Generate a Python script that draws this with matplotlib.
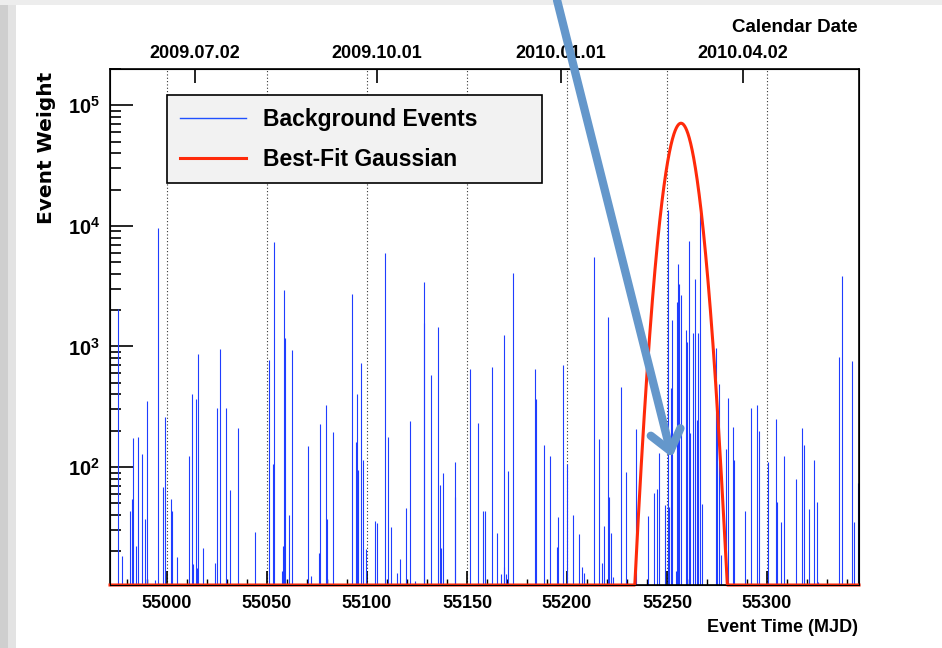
import numpy as np
import matplotlib
matplotlib.use('Agg')
import matplotlib.pyplot as plt
from matplotlib import font_manager
from matplotlib.lines import Line2D
from matplotlib.patches import Rectangle
from matplotlib.ticker import MultipleLocator, LogLocator, NullFormatter, FuncFormatter

# event times (MJD) and weights
event_mjd = [
    54975.4, 54977.7, 54981.5, 54982.4, 54983.0, 54984.7, 54985.7, 54987.7, 54989.2, 54990.0,
    54994.2, 54995.7, 54998.0, 54999.0, 55002.2, 55002.7, 55005.2, 55011.2, 55012.7, 55013.2,
    55014.5, 55015.0, 55015.4, 55017.9, 55024.2, 55024.9, 55026.7, 55029.5, 55031.4, 55035.7,
    55044.2, 55051.2, 55053.2, 55053.7, 55057.4, 55058.2, 55058.7, 55059.0, 55061.0, 55062.4,
    55070.4, 55071.9, 55075.9, 55076.7, 55079.4, 55079.9, 55083.2, 55092.5, 55094.5, 55094.9,
    55095.4, 55097.2, 55098.2, 55099.7, 55103.9, 55105.2, 55109.0, 55110.5, 55111.9, 55114.9,
    55116.5, 55119.7, 55121.4, 55124.2, 55128.4, 55128.7, 55132.2, 55135.4, 55136.7, 55137.2,
    55138.2, 55143.9, 55144.2, 55151.7, 55155.7, 55158.0, 55159.0, 55162.7, 55165.0, 55167.0,
    55168.4, 55168.7, 55169.7, 55170.7, 55173.0, 55183.9, 55184.4, 55188.5, 55191.4, 55194.9,
    55195.4, 55197.9, 55199.9, 55203.2, 55206.0, 55207.4, 55208.4, 55213.5, 55215.9, 55217.3,
    55218.7, 55220.7, 55221.2, 55222.0, 55222.9, 55227.2, 55229.5, 55234.5, 55240.4, 55243.7,
    55244.9, 55245.9, 55249.0, 55250.7, 55251.0, 55252.0, 55252.4, 55254.7, 55254.9, 55255.4,
    55256.2, 55257.2, 55259.5, 55260.2, 55260.9, 55261.5, 55262.9, 55263.9, 55265.2, 55265.7,
    55266.7, 55267.4, 55274.5, 55275.2, 55276.0, 55276.9, 55279.4, 55280.7, 55282.9, 55283.5,
    55289.2, 55292.0, 55294.9, 55295.9, 55300.4, 55304.7, 55305.0, 55307.2, 55308.4, 55314.7,
    55317.5, 55318.4, 55321.2, 55323.5, 55325.0, 55325.4, 55335.9, 55337.7, 55342.4, 55343.4,
    55345.4,
]
event_weight = [
    2035, 18.2, 43.4, 54.3, 174, 22.1, 178, 128, 37, 353,
    11.5, 9570, 68.2, 260, 54.3, 43.4, 17.9, 124, 404, 15.7,
    366, 14.5, 867, 21.4, 16.1, 309, 953, 309, 64.4, 210,
    28.7, 773, 106, 7360, 13.8, 22.1, 2940, 1180, 40, 935,
    149, 12.4, 19.2, 226, 327, 37, 194, 2710, 160, 404,
    94.4, 734, 114, 20.7, 35.8, 34.1, 6000, 178, 31.6, 13.3,
    17.3, 45.4, 239, 11.4, 3450, 1560, 579, 1450, 70.9, 21.4,
    89.7, 109, 56.1, 647, 231, 43.4, 43.4, 679, 28.5, 12.9,
    1245, 14.7, 12.9, 92.6, 4050, 647, 365, 152, 123, 21.8,
    38.3, 702, 106, 40, 27.8, 14.9, 13.3, 5500, 171, 16.1,
    32.4, 1750, 56.7, 28.3, 12.3, 459, 90.3, 206, 39.2, 60.5,
    65.3, 130, 48.4, 13600, 46.9, 455, 1660, 13.7, 2340, 4840,
    3280, 2660, 1370, 1080, 7550, 193, 1290, 3610, 245, 1300,
    12900, 49, 977, 327, 485, 18.6, 141, 372, 213, 114,
    43.4, 311, 325, 199, 109, 250, 50.9, 35.2, 123, 79,
    210, 152, 44.8, 114, 50.9, 11.2, 813, 3850, 759, 35.2,
    73.3,
]

# best-fit gaussian parameters
gauss_amp = 7.1e4
gauss_mean = 55257.0
gauss_sigma = 5.5

# calendar axis on top
date_mjd = [55014, 55105, 55197, 55288]
date_labels = ['2009.07.02', '2009.10.01', '2010.01.01', '2010.04.02']

legend_labels = ['Background Events', 'Best-Fit Gaussian']

x_range = (54971.5, 55346.0)
y_range = (10.5, 2.0e5)

installed = {f.name for f in font_manager.fontManager.ttflist}
narrow = 'Liberation Sans Narrow' in installed
font = 'Liberation Sans Narrow' if narrow else 'Liberation Sans'
# the narrow face allows bigger sizes for the same width
k = 1.1 if narrow else 1.0

plt.rcParams['font.family'] = [font, 'DejaVu Sans']
plt.rcParams['font.weight'] = 'bold'
plt.rcParams['mathtext.fontset'] = 'custom'
plt.rcParams['mathtext.rm'] = font + ':bold'
plt.rcParams['mathtext.it'] = font + ':bold'
plt.rcParams['mathtext.bf'] = font + ':bold'

fig = plt.figure(figsize=(9.42, 6.48), dpi=100)

# grey slide edges
fig.patches.append(Rectangle((0, 0), 8 / 942, 1, transform=fig.transFigure,
                             facecolor='#cfcfcf', edgecolor='none', zorder=-1))
fig.patches.append(Rectangle((8 / 942, 0), 8 / 942, 1, transform=fig.transFigure,
                             facecolor='#e3e3e3', edgecolor='none', zorder=-1))
fig.patches.append(Rectangle((0, 1 - 5 / 648), 1, 5 / 648, transform=fig.transFigure,
                             facecolor='#ededed', edgecolor='none', zorder=-1))

ax = fig.add_axes([110 / 942, 63 / 648, 749 / 942, 516 / 648])
ax.set_yscale('log')

ax.vlines(event_mjd, 1, event_weight, colors='#1f3dff', linewidth=0.8, zorder=2)

xs = np.linspace(x_range[0], x_range[1], 3000)
ys = gauss_amp * np.exp(-0.5 * ((xs - gauss_mean) / gauss_sigma) ** 2)
ys = np.maximum(ys, y_range[0])
ax.plot(xs, ys, color='#ff2a0a', lw=2.2, zorder=4, clip_on=False)

ax.set_xlim(*x_range)
ax.set_ylim(*y_range)

ax.xaxis.set_major_locator(MultipleLocator(50))
ax.xaxis.set_minor_locator(MultipleLocator(10))
ax.yaxis.set_major_locator(LogLocator(base=10, numticks=10))
ax.yaxis.set_minor_locator(LogLocator(base=10, subs=np.arange(2, 10), numticks=50))
ax.yaxis.set_minor_formatter(NullFormatter())
ax.yaxis.set_major_formatter(FuncFormatter(lambda v, p: r'$\mathregular{10^{%d}}$' % round(np.log10(v))))

ax.tick_params(axis='x', which='major', direction='in', length=10, width=1.2,
               labelsize=13 * k, pad=7, top=False)
ax.tick_params(axis='x', which='minor', direction='in', length=4.3, width=1.0, top=False)
ax.tick_params(axis='y', which='major', direction='in', length=16.5, width=1.2,
               labelsize=14.5, pad=7, right=False)
ax.tick_params(axis='y', which='minor', direction='in', length=8, width=1.2, right=False)
ax.grid(axis='x', which='major', linestyle=(0, (1, 2)), color='#333333', linewidth=0.8)
for s in ax.spines.values():
    s.set_linewidth(1.2)

top = ax.twiny()
top.set_xlim(*x_range)
top.set_xticks(date_mjd)
top.set_xticklabels(date_labels)
top.tick_params(axis='x', direction='in', length=10, width=1.2, labelsize=13 * k, pad=5)

fig.text(858 / 942, 1 - 628 / 648, 'Event Time (MJD)', ha='right', va='center', fontsize=13 * k)
fig.text(858 / 942, 1 - 28 / 648, 'Calendar Date', ha='right', va='center', fontsize=13.5 * k)
fig.text(47 / 942, 1 - 72 / 648, 'Event Weight', rotation=90, ha='center', va='top',
         fontsize=14.5, family='DejaVu Sans')

handles = [Line2D([], [], color='#2050ff', lw=1.0), Line2D([], [], color='#ff2a0a', lw=2.2)]
leg = top.legend(handles, legend_labels, loc='upper left',
                 bbox_to_anchor=(167 / 942, 1 - 180 / 648, 375 / 942, 85 / 648),
                 bbox_transform=fig.transFigure, mode='expand', borderaxespad=0,
                 fancybox=False, framealpha=1, facecolor='#f2f2f2', edgecolor='black',
                 handlelength=2.9, handletextpad=0.75, borderpad=0.55, labelspacing=0.75,
                 prop={'family': font, 'weight': 'bold', 'size': 16.5 * k})
leg.get_frame().set_linewidth(1.2)

# annotation arrow pointing at the flare
top.annotate('', xy=(55252.5, 120), xycoords=ax.transData,
             xytext=(557 / 942, 1.0), textcoords='figure fraction',
             arrowprops=dict(arrowstyle='->,head_length=0.7,head_width=0.55', color='#6497cb',
                             lw=6, mutation_scale=20, shrinkA=0, shrinkB=0),
             annotation_clip=False, zorder=6)

fig.savefig('out.png', dpi=100)
